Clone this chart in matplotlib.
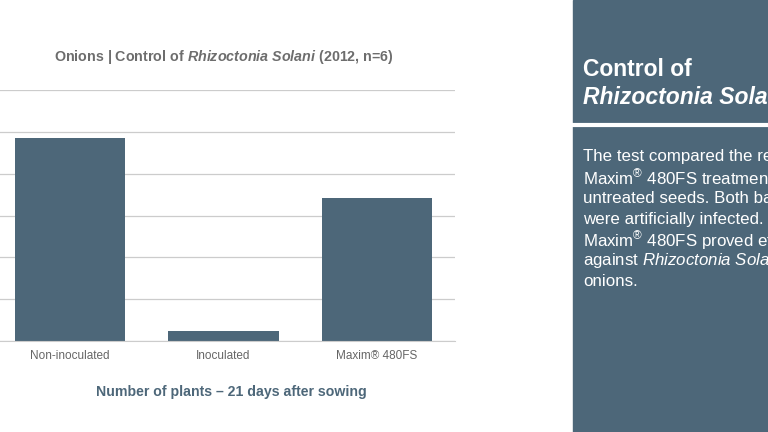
import matplotlib.pyplot as plt

plt.rcParams['font.family'] = ['Liberation Sans', 'DejaVu Sans']
plt.rcParams['mathtext.fontset'] = 'custom'
plt.rcParams['mathtext.rm'] = 'Liberation Sans'
plt.rcParams['mathtext.it'] = 'Liberation Sans:italic'
plt.rcParams['mathtext.bf'] = 'Liberation Sans:bold'
plt.rcParams['mathtext.bfit'] = 'Liberation Sans:bold:italic'

categories = ['Non-inoculated', 'Inoculated', 'Maxim® 480FS']
plants = [243, 12, 171]

bar_col = '#4d6779'
W, H = 768, 432

fig = plt.figure(figsize=(7.68, 4.32), dpi=100)
ax = fig.add_axes([0, (H - 341) / H, 455 / W, (341 - 90) / H])
ax.bar(range(len(categories)), plants, width=0.717, color=bar_col, zorder=2)
ax.set_xlim(-0.456, 2.508)
ax.set_ylim(0, 300)
ax.set_yticks(range(0, 301, 50))
ax.yaxis.grid(True, color='#cccccc', lw=0.9, zorder=0)
ax.tick_params(left=False, labelleft=False, bottom=False, labelsize=8.5, labelcolor='#666666', pad=3)
ax.set_xticks(range(len(categories)))
ax.set_xticklabels(categories)
for s in ['top', 'right', 'left']:
    ax.spines[s].set_visible(False)
ax.spines['bottom'].set_color('#cccccc')

fig.text(224 / W, 1 - 57 / H, r'Onions | Control of $\mathbfit{Rhizoctonia\ Solani}$ (2012, n=6)',
         ha='center', va='center', fontsize=10.3, fontweight='bold', color='#6d6d6d')
fig.text(231 / W, 1 - 392 / H, 'Number of plants – 21 days after sowing',
         ha='center', va='center', fontsize=10.2, fontweight='bold', color=bar_col)

# right-hand panel (text runs off the right edge, as in the source slide)
fig.patches.append(plt.Rectangle((573 / W, 0), 1, 1, transform=fig.transFigure, color=bar_col, zorder=0))
fig.add_artist(plt.Line2D([573 / W, 1], [1 - 125 / H] * 2, color='white', lw=3))
fig.text(583 / W, 1 - 70 / H, 'Control of', fontsize=16.5, fontweight='bold', color='white', va='center')
fig.text(583 / W, 1 - 98 / H, 'Rhizoctonia Solani', fontsize=16.5, fontweight='bold', style='italic',
         color='white', va='center')
body = ['The test compared the results of',
        r'Maxim$^{®}$ 480FS treatment with',
        'untreated seeds. Both batches',
        'were artificially infected.',
        r'Maxim$^{®}$ 480FS proved effective',
        r'against $\mathit{Rhizoctonia\ Solani}$ in',
        'onions.']
for i, line in enumerate(body):
    fig.text(583 / W, 1 - (157 + i * 20.8) / H, line, fontsize=12.2, color='white', va='center')

fig.savefig('out.png', dpi=100)
